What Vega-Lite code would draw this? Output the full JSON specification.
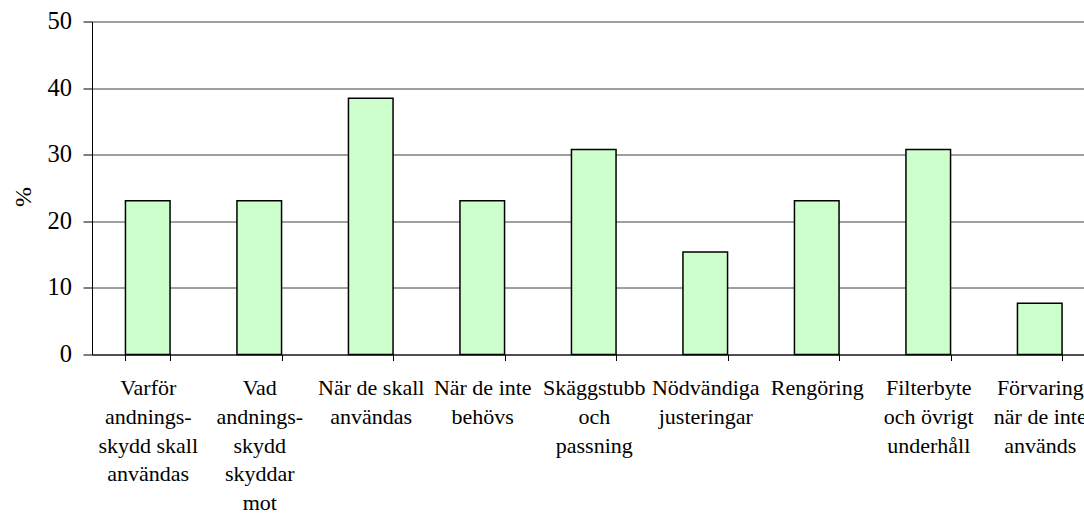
{
  "$schema": "https://vega.github.io/schema/vega-lite/v6.json",
  "width": 992,
  "height": 333,
  "autosize": "none",
  "padding": {"left": 92, "top": 21.5, "right": 0, "bottom": 158.5},
  "background": "white",
  "config": {
    "view": {"stroke": null},
    "font": "Liberation Serif",
    "axis": {"labelFont": "Liberation Serif", "titleFont": "Liberation Serif"}
  },
  "data": {
    "values": [
      {"kategori": "Varför|andnings-|skydd skall|användas", "procent": 23.08},
      {"kategori": "Vad|andnings-|skydd|skyddar|mot", "procent": 23.08},
      {"kategori": "När de skall|användas", "procent": 38.46},
      {"kategori": "När de inte|behövs", "procent": 23.08},
      {"kategori": "Skäggstubb|och|passning", "procent": 30.77},
      {"kategori": "Nödvändiga|justeringar", "procent": 15.38},
      {"kategori": "Rengöring", "procent": 23.08},
      {"kategori": "Filterbyte|och övrigt|underhåll", "procent": 30.77},
      {"kategori": "Förvaring|när de inte|används", "procent": 7.69}
    ]
  },
  "mark": {"type": "bar", "fill": "#CCFFCC", "stroke": "#000000", "strokeWidth": 1.5},
  "encoding": {
    "x": {
      "field": "kategori",
      "type": "nominal",
      "sort": null,
      "scale": {"range": [0, 1003.5], "paddingInner": 0.6, "paddingOuter": 0.3},
      "axis": {
        "title": null,
        "labelAngle": 0,
        "labelExpr": "split(datum.label, '|')",
        "labelFont": "Liberation Serif",
        "labelFontSize": 22,
        "labelLineHeight": 28.8,
        "labelColor": "#000000",
        "labelPadding": 17,
        "labelOverlap": false,
        "labelBound": false,
        "labelLimit": 0,
        "tickBand": "extent",
        "tickSize": 6,
        "tickColor": "#000000",
        "domainColor": "#000000",
        "domainWidth": 1,
        "grid": false
      }
    },
    "y": {
      "field": "procent",
      "type": "quantitative",
      "scale": {"domain": [0, 50], "nice": false},
      "axis": {
        "title": "%",
        "titleFont": "Liberation Serif",
        "titleFontSize": 24,
        "titleFontWeight": "normal",
        "titleColor": "#000000",
        "titleBaseline": "middle",
        "titleX": -68.5,
        "titleY": 175,
        "values": [0, 10, 20, 30, 40, 50],
        "labelFont": "Liberation Serif",
        "labelFontSize": 24.5,
        "labelColor": "#000000",
        "labelPadding": 11.5,
        "tickSize": 9,
        "tickColor": "#000000",
        "domainColor": "#000000",
        "grid": true,
        "gridColor": "#404040",
        "gridWidth": 1
      }
    }
  }
}
